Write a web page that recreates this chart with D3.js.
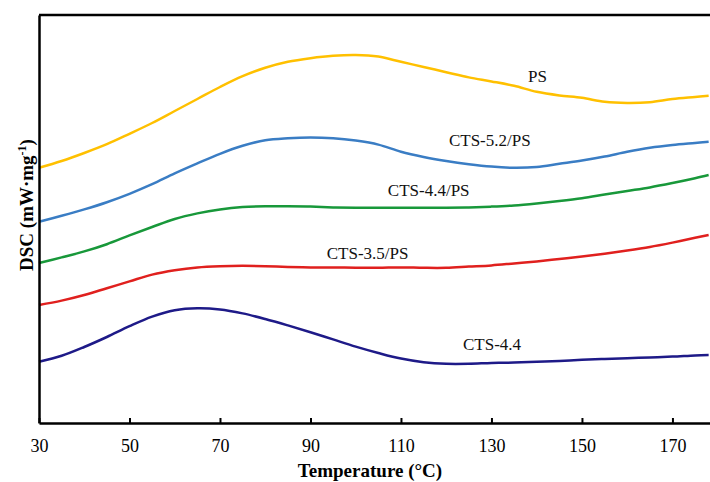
<!DOCTYPE html>
<html>
<head>
<meta charset="utf-8">
<script src="https://cdn.jsdelivr.net/npm/d3@7"></script>
<style>
  body { margin: 0; background: #fff; }
  svg { display: block; font-family: "Liberation Serif", "Times New Roman", serif; }
  .curve { fill: none; stroke-width: 2.5; stroke-linejoin: round; }
</style>
</head>
<body>
<div class="container"></div>
<script>
// temperature grid (°C)
var temps = [30,35,40,45,50,55,60,65,70,75,80,85,90,95,100,105,110,115,120,125,130,135,140,145,150,155,160,165,170,175,178];

// heat flow, arbitrary offset units (curves are stacked)
var psVals   = [63.8,65.5,67.5,69.7,72.3,75.0,78.0,81.0,84.0,86.7,88.8,90.3,91.2,91.8,92.0,91.6,90.3,89.0,87.7,86.4,85.4,84.3,82.8,81.9,81.3,80.3,80.0,80.2,81.0,81.5,81.8];
var cts52Vals = [50.3,51.8,53.4,55.2,57.3,59.7,62.4,64.9,67.3,69.3,70.7,71.2,71.4,71.2,70.6,69.6,67.8,66.5,65.5,64.7,64.1,63.8,64.0,64.8,65.6,66.6,67.8,68.8,69.5,70.0,70.3];
var cts44psVals = [40.0,41.4,42.9,44.7,46.9,49.0,51.0,52.4,53.4,54.0,54.2,54.2,54.1,53.9,53.8,53.8,53.8,53.8,53.8,53.9,54.1,54.4,54.9,55.5,56.2,57.1,58.0,58.9,60.0,61.2,62.0];
var cts35Vals = [29.5,30.6,32.0,33.7,35.4,37.1,38.2,38.9,39.2,39.3,39.2,39.0,38.9,38.9,38.8,38.8,38.9,38.8,38.8,39.1,39.4,39.9,40.4,41.0,41.6,42.3,43.1,44.0,45.1,46.3,47.0];
var cts44Vals = [15.3,16.8,19.0,21.5,24.2,26.6,28.2,28.7,28.4,27.4,26.0,24.4,22.7,20.9,19.1,17.5,16.1,15.2,14.8,14.8,15.0,15.1,15.3,15.5,15.8,16.0,16.2,16.4,16.6,16.9,17.0];

var seriesNames = ["PS", "CTS-5.2/PS", "CTS-4.4/PS", "CTS-3.5/PS", "CTS-4.4"];
var seriesVals = [psVals, cts52Vals, cts44psVals, cts35Vals, cts44Vals];
var seriesColors = ["#FFC000", "#3A7DC4", "#18983A", "#E0201E", "#1E1A88"];
// where each label sits: [temperature, value]
var labelPos = [[138.1, 85.3], [120.6, 69.2], [107.1, 56.8], [93.6, 41], [123.7, 18.3]];

var xTicks = [30,50,70,90,110,130,150,170];

const WIDTH = 710;
const HEIGHT = 482;
const LEFT = 39, TOP = 15, BOTTOM = 423;

var svg = d3.select('.container').append('svg')
  .attr('width', WIDTH)
  .attr('height', HEIGHT);

var xScale = d3.scaleLinear().domain([30, 178.3]).range([LEFT, WIDTH]);
var yScale = d3.scaleLinear().domain([0, 102]).range([BOTTOM, TOP]);

var line = d3.line()
  .x(function(d, i) { return xScale(temps[i]); })
  .y(function(d) { return yScale(d); })
  .curve(d3.curveCatmullRom.alpha(0.5));

svg.selectAll('path.curve').data(seriesVals)
  .enter().append('path')
  .attr('class', 'curve')
  .attr('stroke', function(d, i) { return seriesColors[i]; })
  .attr('d', line);

// frame
var xAxis = d3.axisBottom(xScale).tickValues(xTicks).tickSizeInner(-5).tickSizeOuter(0);
var gx = svg.append('g').attr('transform', 'translate(0,' + BOTTOM + ')').call(xAxis);
gx.select('.domain').attr('stroke', '#000').attr('stroke-width', 2.5);
gx.selectAll('.tick line').attr('stroke', '#000').attr('stroke-width', 2);
gx.selectAll('.tick text')
  .attr('y', 29).attr('dy', 0)
  .attr('font-size', 18)
  .attr('font-family', '"Liberation Serif", serif')
  .attr('fill', '#000');

var gy = svg.append('g').attr('transform', 'translate(' + LEFT + ',0)')
  .call(d3.axisLeft(yScale).tickValues([]).tickSizeOuter(0));
gy.select('.domain').attr('stroke', '#000').attr('stroke-width', 2.5);

svg.append('line')
  .attr('x1', LEFT).attr('x2', WIDTH)
  .attr('y1', TOP).attr('y2', TOP)
  .attr('stroke', '#000').attr('stroke-width', 2.5);

// series labels
svg.selectAll('text.lbl').data(seriesNames)
  .enter().append('text')
  .attr('class', 'lbl')
  .attr('x', function(d, i) { return xScale(labelPos[i][0]); })
  .attr('y', function(d, i) { return yScale(labelPos[i][1]); })
  .attr('font-size', 17)
  .attr('fill', '#111')
  .text(function(d) { return d; });

// axis titles
svg.append('text')
  .attr('x', 370).attr('y', 477)
  .attr('text-anchor', 'middle')
  .attr('font-size', 19).attr('font-weight', 'bold')
  .text('Temperature (°C)');

var yt = svg.append('text')
  .attr('transform', 'translate(33,205) rotate(-90)')
  .attr('text-anchor', 'middle')
  .attr('font-size', 19).attr('font-weight', 'bold');
yt.append('tspan').text('DSC (mW·mg');
yt.append('tspan').attr('font-size', 12).attr('dy', -7).text('-1');
yt.append('tspan').attr('dy', 7).text(')');
</script>
</body>
</html>
